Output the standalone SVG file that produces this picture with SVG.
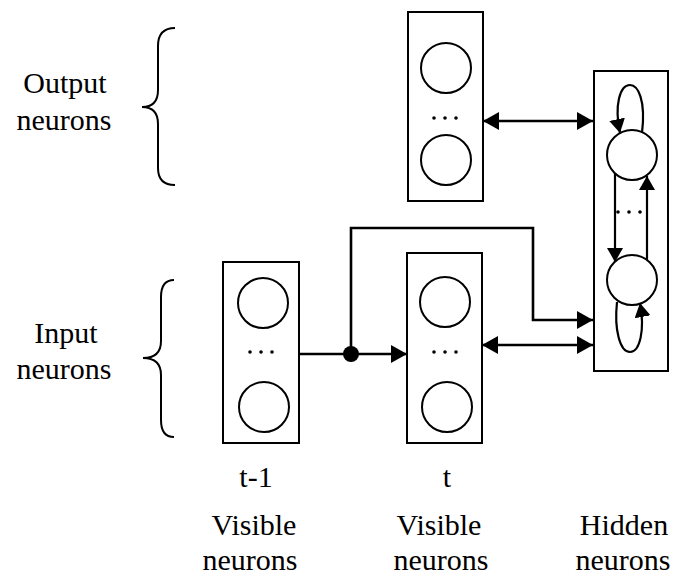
<svg xmlns="http://www.w3.org/2000/svg" width="678" height="575" viewBox="0 0 678 575">
  <style>
    .box { fill: #fff; stroke: #000; stroke-width: 2; }
    .neuron { fill: #fff; stroke: #000; stroke-width: 2; }
    .dot { fill: #000; }
    .wire { fill: none; stroke: #000; stroke-width: 2.6; }
    .loop { fill: none; stroke: #000; stroke-width: 2.2; }
    .brace { fill: none; stroke: #000; stroke-width: 2; }
    .lbl { font-family: "Liberation Serif", "Times New Roman", serif; font-size: 30px; fill: #000; text-anchor: middle; }
  </style>
  <defs>
    <marker id="head" markerUnits="userSpaceOnUse" markerWidth="16" markerHeight="18" viewBox="0 0 16 18" refX="16" refY="9" orient="auto-start-reverse">
      <path d="M0,0 L16,9 L0,18 Z" fill="#000"/>
    </marker>
    <marker id="headSmall" markerUnits="userSpaceOnUse" markerWidth="14" markerHeight="16" viewBox="0 0 14 16" refX="14" refY="8" orient="auto">
      <path d="M0,0 L14,8 L0,16 Z" fill="#000"/>
    </marker>
  </defs>

  <rect width="678" height="575" fill="#fff"/>

  <!-- side labels with braces -->
  <g id="output-label">
    <text class="lbl" x="65" y="93">Output</text>
    <text class="lbl" x="64" y="130">neurons</text>
    <path class="brace" d="M175,28 Q158,28 158,46 L158,90 Q158,107 142,107 Q158,107 158,124 L158,168 Q158,185 175,185"/>
  </g>
  <g id="input-label">
    <text class="lbl" x="66" y="343">Input</text>
    <text class="lbl" x="64" y="379">neurons</text>
    <path class="brace" d="M174,280 Q161,280 161,297 L161,341 Q161,358 143,358 Q161,358 161,375 L161,420 Q161,437 174,437"/>
  </g>

  <!-- output layer -->
  <g id="output-layer">
    <rect class="box" x="408" y="12" width="75" height="189"/>
    <circle class="neuron" cx="446" cy="68" r="25"/>
    <circle class="dot" cx="434" cy="118" r="1.8"/>
    <circle class="dot" cx="445" cy="118" r="1.8"/>
    <circle class="dot" cx="456" cy="118" r="1.8"/>
    <circle class="neuron" cx="446" cy="160" r="25"/>
  </g>

  <!-- visible layer t-1 -->
  <g id="visible-prev">
    <rect class="box" x="223" y="262" width="76" height="181"/>
    <circle class="neuron" cx="263" cy="303" r="25"/>
    <circle class="dot" cx="250" cy="352" r="1.8"/>
    <circle class="dot" cx="261" cy="352" r="1.8"/>
    <circle class="dot" cx="272" cy="352" r="1.8"/>
    <circle class="neuron" cx="264" cy="407" r="25"/>
    <text class="lbl" x="256" y="487">t-1</text>
    <text class="lbl" x="254" y="535">Visible</text>
    <text class="lbl" x="250" y="570">neurons</text>
  </g>

  <!-- visible layer t -->
  <g id="visible-curr">
    <rect class="box" x="407" y="253" width="75" height="190"/>
    <circle class="neuron" cx="445" cy="302" r="25"/>
    <circle class="dot" cx="434" cy="352" r="1.8"/>
    <circle class="dot" cx="445" cy="352" r="1.8"/>
    <circle class="dot" cx="456" cy="352" r="1.8"/>
    <circle class="neuron" cx="447" cy="407" r="25"/>
    <text class="lbl" x="447" y="487">t</text>
    <text class="lbl" x="439" y="535">Visible</text>
    <text class="lbl" x="441" y="570">neurons</text>
  </g>

  <!-- hidden layer with recurrent loops -->
  <g id="hidden-layer">
    <rect class="box" x="594" y="71" width="74" height="300"/>
    <circle class="neuron" cx="632" cy="155" r="25"/>
    <circle class="neuron" cx="632" cy="280" r="25"/>
    <circle class="dot" cx="618" cy="212" r="1.8"/>
    <circle class="dot" cx="629" cy="212" r="1.8"/>
    <circle class="dot" cx="640" cy="212" r="1.8"/>
    <path class="loop" d="M642,133 C646,100 638,85 630,85 C620,85 614,105 620,133" marker-end="url(#headSmall)"/>
    <path class="loop" d="M617,302 C614,330 620,352 630,352 C640,352 645,330 640,303" marker-end="url(#headSmall)"/>
    <path class="loop" d="M615,173 L615,262" marker-end="url(#headSmall)"/>
    <path class="loop" d="M647,260 L647,176" marker-end="url(#headSmall)"/>
    <text class="lbl" x="624" y="535">Hidden</text>
    <text class="lbl" x="623" y="570">neurons</text>
  </g>

  <!-- connectors between layers -->
  <g id="connectors">
    <path class="wire" d="M483,121 L593,121" marker-start="url(#head)" marker-end="url(#head)"/>
    <path class="wire" d="M299,354 L407,354" marker-end="url(#head)"/>
    <path class="wire" d="M351,354 L351,228 L533,228 L533,320 L593,320" marker-end="url(#head)"/>
    <path class="wire" d="M482,345 L593,345" marker-start="url(#head)" marker-end="url(#head)"/>
    <circle cx="351" cy="354" r="8" fill="#000"/>
  </g>
</svg>
